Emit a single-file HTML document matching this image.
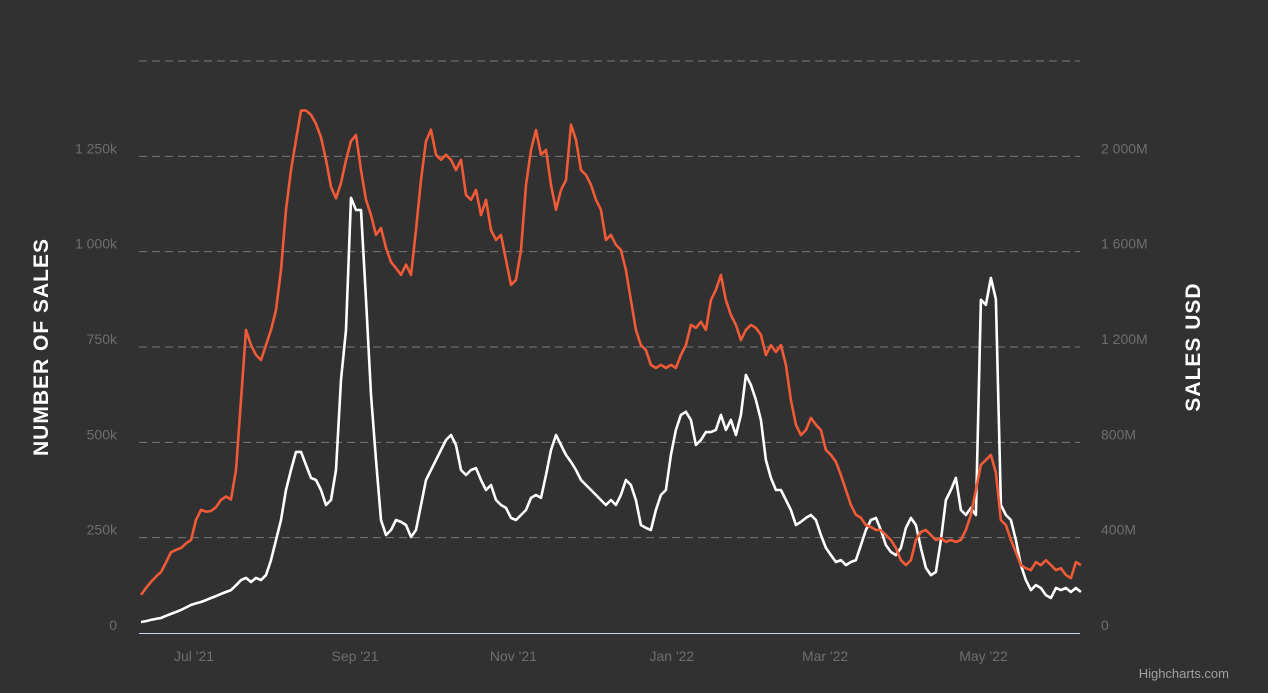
<!DOCTYPE html>
<html><head><meta charset="utf-8"><style>
html,body{margin:0;padding:0;background:#313131;}
svg{display:block;font-family:"Liberation Sans",sans-serif;}
</style></head><body>
<svg id="chart" width="1268" height="693" viewBox="0 0 1268 693">
<rect width="1268" height="693" fill="#313131"/>
<g id="grid"></g><g id="labels"></g><g id="series"></g>
<text x="48" y="347" fill="#ffffff" font-size="21" font-weight="bold" text-anchor="middle" transform="rotate(-90 48 347)" letter-spacing="1">NUMBER OF SALES</text>
<text x="1200" y="347" fill="#ffffff" font-size="21" font-weight="bold" text-anchor="middle" transform="rotate(-90 1200 347)" letter-spacing="1">SALES USD</text>
<text x="1229" y="678" fill="#a0a0a0" font-size="13" text-anchor="end">Highcharts.com</text>
</svg>
<script>
const startDay = -20.4; // days relative to Jul 1 2021
const stepDays = 1.925;
const salesCount = [100,118,134,148,160,185,212,218,223,235,244,296,323,318,320,330,349,358,350,428,611,795,755,729,716,755,795,847,952,1110,1214,1293,1370,1370,1359,1335,1300,1241,1170,1140,1180,1240,1290,1306,1214,1136,1096,1044,1062,1010,973,957,939,966,939,1057,1188,1290,1320,1254,1241,1254,1241,1214,1241,1149,1136,1162,1096,1136,1057,1031,1044,978,913,926,1005,1175,1267,1319,1254,1267,1175,1110,1162,1188,1333,1293,1214,1201,1175,1136,1110,1031,1044,1018,1005,952,873,795,755,742,703,695,703,695,703,695,729,755,808,800,816,795,873,900,939,873,834,808,768,795,808,800,782,729,755,737,755,703,611,546,519,532,564,546,532,480,467,449,414,375,336,310,302,283,278,270,270,257,244,223,191,178,191,244,265,270,257,244,249,239,244,239,244,270,310,375,441,454,467,420,296,283,244,212,178,170,165,186,178,191,178,165,170,152,144,186,178];
const salesUsd = [46,50,55,59,63,72,80,88,97,107,118,124,130,138,147,155,164,172,180,200,222,231,214,231,222,243,306,390,474,600,684,760,760,705,651,642,600,537,558,684,1062,1272,1826,1775,1775,1400,1000,726,474,411,432,474,466,453,403,432,537,642,684,726,768,810,831,789,684,663,684,692,642,600,621,558,537,525,483,474,495,516,567,579,567,663,768,831,789,747,718,684,642,621,600,579,558,537,558,537,579,642,621,558,453,441,432,516,579,600,747,852,915,928,894,789,810,843,843,852,915,852,894,831,915,1083,1041,978,894,726,651,600,600,558,516,453,466,483,495,474,411,357,327,298,306,285,298,306,369,432,474,483,432,369,340,327,357,441,483,453,357,273,243,256,390,558,600,651,516,495,525,495,1398,1377,1490,1400,537,495,474,390,285,222,180,201,189,159,147,189,180,189,172,189,172];
const leftTicks = [0,250,500,750,1000,1250,1500];
const leftLabels = ["0","250k","500k","750k","1 000k","1 250k",""];
const rightLabels = ["0","400M","800M","1 200M","1 600M","2 000M",""];
const monthLabels = ["Jul '21","Sep '21","Nov '21","Jan '22","Mar '22","May '22"];
const monthDays = [0,62,123,184,243,304];

const NS="http://www.w3.org/2000/svg";
const X0=194, PXD=2.597, Y0=633, PY=95.33/250;
const xs=d=>X0+d*PXD, yl=v=>Y0-v*PY, yr=v=>Y0-v*95.33/400;
function el(t,a,p){const e=document.createElementNS(NS,t);for(const k in a)e.setAttribute(k,a[k]);p.appendChild(e);return e;}
const grid=document.getElementById('grid'), labels=document.getElementById('labels'), ser=document.getElementById('series');
leftTicks.forEach((t,i)=>{
  const y=yl(t);
  if(i>0){const g=el('line',{x1:139,x2:1080,y1:y,y2:y,stroke:'#7a7a7a','stroke-width':1,'stroke-dasharray':'8,5'},grid);
  
  }
  const a=el('text',{x:117,y:y-3,fill:'#6e6e6e','font-size':14,'text-anchor':'end'},labels);a.textContent=leftLabels[i];
  
  
  const b=el('text',{x:1101,y:y-3,fill:'#6e6e6e','font-size':14,'text-anchor':'start'},labels);b.textContent=rightLabels[i];
  
  
});
const ax=el('line',{x1:139,x2:1080,y1:Y0+0.5,y2:Y0+0.5,stroke:'#ccd6eb','stroke-width':1},grid);


monthLabels.forEach((m,i)=>{
  const t=el('text',{x:xs(monthDays[i]),y:661,fill:'#6e6e6e','font-size':14,'text-anchor':'middle'},labels);t.textContent=m;
  
  
});
function path(arr,yf,col,name){
  const d=arr.map((v,i)=>(i?'L':'M')+xs(startDay+i*stepDays).toFixed(1)+','+yf(v).toFixed(1)).join('');
  const p=el('path',{d:d,fill:'none',stroke:col,'stroke-width':2.6,'stroke-linejoin':'round'},ser);
  
  
}
path(salesUsd,yr,'#ffffff','sales-usd-line');
path(salesCount,yl,'#f15a37','number-of-sales-line');
</script>
</body></html>
